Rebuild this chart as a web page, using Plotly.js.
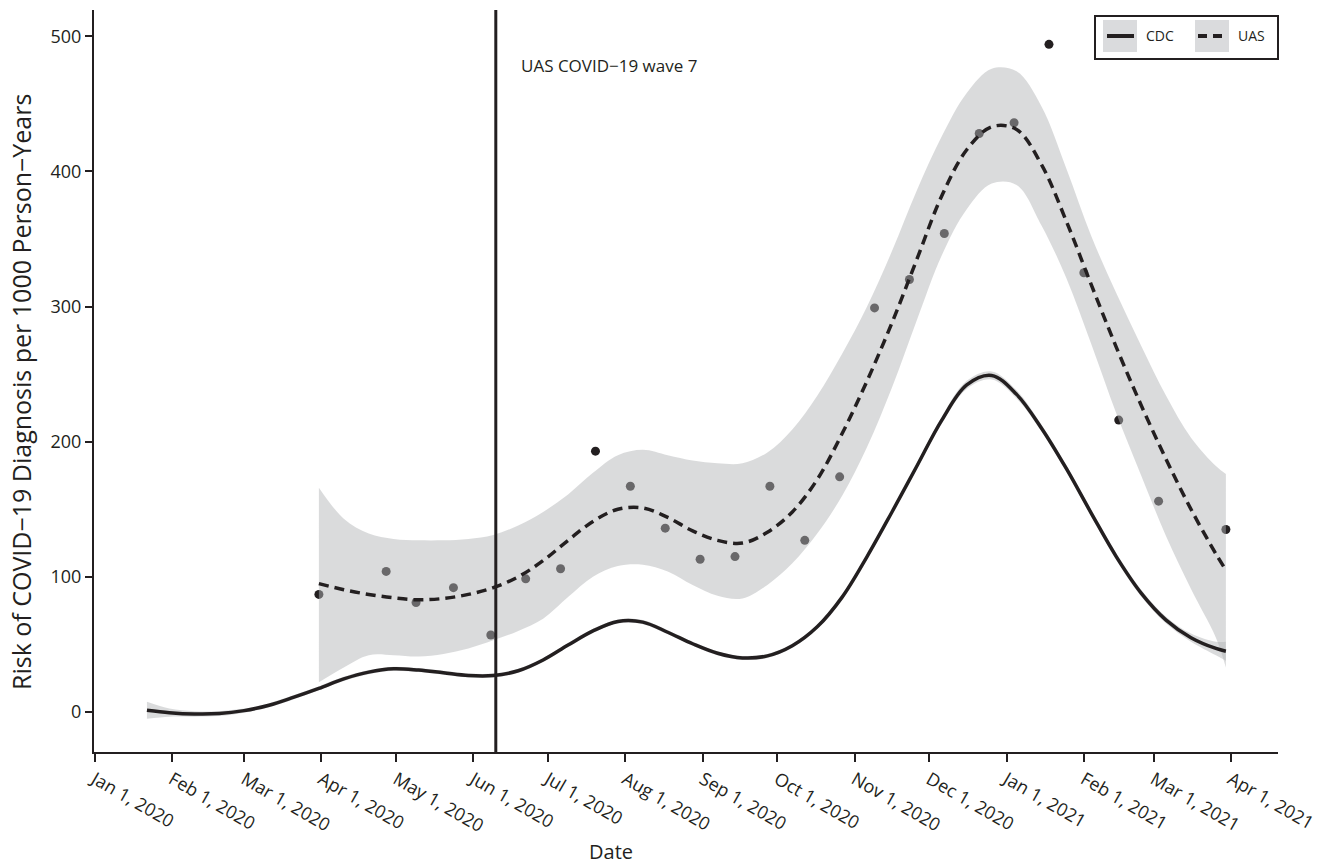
<!DOCTYPE html>
<html>
<head>
<meta charset="utf-8">
<script src="https://cdn.plot.ly/plotly-3.0.1.min.js"></script>
<style>html,body{margin:0;padding:0;background:#fff;}#chart{width:1323px;height:867px;}</style>
</head>
<body>
<div id="chart"></div>
<script>
// ---------- DATA ----------
// CDC smoothed risk (solid line) and its narrow confidence band
const cdcDates = ["2020-01-22","2020-01-31","2020-02-10","2020-02-20","2020-03-01","2020-03-11","2020-03-21","2020-03-31","2020-04-10","2020-04-20","2020-04-30","2020-05-10","2020-05-20","2020-05-30","2020-06-09","2020-06-19","2020-06-29","2020-07-09","2020-07-19","2020-07-29","2020-08-08","2020-08-18","2020-08-28","2020-09-07","2020-09-17","2020-09-27","2020-10-07","2020-10-17","2020-10-27","2020-11-06","2020-11-16","2020-11-26","2020-12-06","2020-12-16","2020-12-26","2021-01-05","2021-01-15","2021-01-25","2021-02-04","2021-02-14","2021-02-24","2021-03-06","2021-03-16","2021-03-26","2021-03-30"];
const cdcFit = [1.3,-0.5,-1.5,-1.2,1.0,5,11,17.5,24.5,29.5,32,31,29,27,27,30.5,38.5,49.5,60,67,66.5,59,50.5,43.5,40,41.5,49,63,85,115,148,182,216,242,249,235,210,180,147,115,88,68,55,47,45];
const cdcLower = [-5,-3.5,-3.5,-3,-0.5,3.5,9.5,16,23,28,30.5,29.5,27.5,25.5,25.5,29,37,48,58.5,65.5,65,57.5,49,42,38.5,40,47.5,61.5,83.5,113.5,146.5,180,213.5,239,246,232,207.5,177.5,144.5,112.5,85.5,65.5,52,42,38];
const cdcUpper = [7.5,2.5,0.5,0.6,2.5,6.5,12.5,19,26,31,33.5,32.5,30.5,28.5,28.5,32,40,51,61.5,68.5,68,60.5,52,45,41.5,43,50.5,64.5,86.5,116.5,149.5,184,218.5,245,252,238,212.5,182.5,149.5,117.5,90.5,70.5,58,52,52];

// UAS smoothed risk (dashed line) with confidence band
const uasDates = ["2020-03-31","2020-04-10","2020-04-20","2020-04-30","2020-05-10","2020-05-20","2020-05-30","2020-06-09","2020-06-19","2020-06-29","2020-07-09","2020-07-19","2020-07-29","2020-08-08","2020-08-18","2020-08-28","2020-09-07","2020-09-17","2020-09-27","2020-10-07","2020-10-17","2020-10-27","2020-11-06","2020-11-16","2020-11-26","2020-12-06","2020-12-16","2020-12-26","2021-01-05","2021-01-15","2021-01-25","2021-02-04","2021-02-14","2021-02-24","2021-03-06","2021-03-16","2021-03-26","2021-03-30"];
const uasFit = [95,90.5,87,84.5,83,84,87,92,100,112,127,141,150,151,144,134,127,125,133,148,172,206,245,288,335,382,416,433,431,405,363,316,270,227,187,150,117,105];
const uasLower = [22,33,42,42,41,43,47,53,60,69,85,100,108,109,104,94,86,84,94,110,132,160,196,240,290,338,372,391,390,360,321,272,221,175,130,91,55,33];
const uasUpper = [166,143,132,128,127,127,128,131,138,148,161,177,190,194,190,186,184,184,192,209,234,265,300,341,386,426,458,476,474,448,402,352,310,271,234,203,182,176];

// UAS observed biweekly risk (points)
const obsDates = ["2020-03-31","2020-04-27","2020-05-09","2020-05-24","2020-06-08","2020-06-22","2020-07-06","2020-07-20","2020-08-03","2020-08-17","2020-08-31","2020-09-14","2020-09-28","2020-10-12","2020-10-26","2020-11-09","2020-11-23","2020-12-07","2020-12-21","2021-01-04","2021-01-18","2021-02-01","2021-02-15","2021-03-03","2021-03-30"];
const obsValues = [87,104,81,92,57,98.5,106,193,167,136,113,115,167,127,174,299,320,354,428,436,494,325,216,156,135];

// Reference line
const waveDate = "2020-06-10";
const waveLabel = "UAS COVID\u221219 wave 7";

// Axis ticks
const yTicks = [0,100,200,300,400,500];
const legendNames = ["CDC","UAS"];

// ---------- STYLE ----------
const INK = "#231f20";
const BAND = "rgba(180,181,184,0.49)";
const FONT = "Open Sans, Noto Sans, sans-serif";
const L = 94, R = 1278, T = 10, B = 752;
const W = 1323, H = 867;
const px = x => (x - L) / (R - L);
const py = y => (B - y) / (B - T);

const traces = [
  {x: obsDates, y: obsValues, type: "scatter", mode: "markers",
   marker: {size: 9, color: INK}, showlegend: false, hoverinfo: "x+y"},
  {x: uasDates, y: uasLower, type: "scatter", mode: "lines",
   line: {width: 0, shape: "spline"}, showlegend: false, hoverinfo: "skip"},
  {x: uasDates, y: uasUpper, type: "scatter", mode: "lines", fill: "tonexty",
   fillcolor: BAND, line: {width: 0, shape: "spline"}, showlegend: false, hoverinfo: "skip"},
  {x: cdcDates, y: cdcLower, type: "scatter", mode: "lines",
   line: {width: 0, shape: "spline"}, showlegend: false, hoverinfo: "skip"},
  {x: cdcDates, y: cdcUpper, type: "scatter", mode: "lines", fill: "tonexty",
   fillcolor: BAND, line: {width: 0, shape: "spline"}, showlegend: false, hoverinfo: "skip"},
  {x: cdcDates, y: cdcFit, type: "scatter", mode: "lines", name: legendNames[0],
   line: {width: 3.5, color: INK, shape: "spline"}, showlegend: false},
  {x: uasDates, y: uasFit, type: "scatter", mode: "lines", name: legendNames[1],
   line: {width: 3.5, color: INK, shape: "spline", dash: "10px,6px"}, showlegend: false}
];

const shapes = [
  {type: "line", xref: "x", yref: "paper", x0: waveDate, x1: waveDate, y0: 0, y1: 1,
   line: {color: INK, width: 3}, layer: "above"},
  // legend box
  {type: "rect", xref: "paper", yref: "paper", x0: px(1095), x1: px(1278), y0: py(59), y1: py(16),
   line: {color: INK, width: 2}, fillcolor: "#ffffff", layer: "above"},
  {type: "rect", xref: "paper", yref: "paper", x0: px(1103), x1: px(1137), y0: py(52), y1: py(20),
   line: {width: 0}, fillcolor: "#dadbdd", layer: "above"},
  {type: "line", xref: "paper", yref: "paper", x0: px(1107), x1: px(1134), y0: py(36), y1: py(36),
   line: {color: INK, width: 4}, layer: "above"},
  {type: "rect", xref: "paper", yref: "paper", x0: px(1195), x1: px(1229), y0: py(52), y1: py(20),
   line: {width: 0}, fillcolor: "#dadbdd", layer: "above"},
  {type: "line", xref: "paper", yref: "paper", x0: px(1198), x1: px(1226), y0: py(36), y1: py(36),
   line: {color: INK, width: 4, dash: "9px,6px"}, layer: "above"}
];

const annotations = [
  {text: waveLabel, xref: "x", yref: "paper", x: waveDate, xshift: 23, y: py(66),
   xanchor: "left", yanchor: "middle", showarrow: false, font: {family: FONT, size: 17, color: INK}},
  {text: legendNames[0], xref: "paper", yref: "paper", x: px(1144), y: py(36), xanchor: "left", yanchor: "middle",
   showarrow: false, font: {family: FONT, size: 14, color: INK}},
  {text: legendNames[1], xref: "paper", yref: "paper", x: px(1236), y: py(36), xanchor: "left", yanchor: "middle",
   showarrow: false, font: {family: FONT, size: 14, color: INK}},
  {text: "Date", xref: "paper", yref: "paper", x: px(611), y: py(852), xanchor: "center", yanchor: "middle",
   showarrow: false, font: {family: FONT, size: 20, color: INK}},
  {text: "Risk of COVID\u221219 Diagnosis per 1000 Person\u2212Years", xref: "paper", yref: "paper",
   x: px(21), y: py(392), xanchor: "center", yanchor: "middle", textangle: -90,
   showarrow: false, font: {family: FONT, size: 25, color: INK}}
];

const layout = {
  width: W, height: H,
  margin: {l: L, r: W - R, t: T, b: H - B, pad: 0},
  paper_bgcolor: "#ffffff", plot_bgcolor: "#ffffff",
  showlegend: false,
  font: {family: FONT, color: INK},
  xaxis: {
    type: "date", range: ["2019-12-31 18:00", "2021-04-19 22:00"],
    tick0: "2020-01-01", dtick: "M1", tickformat: "%b %-d, %Y", tickangle: 30,
    ticks: "outside", ticklen: 8, tickwidth: 2, tickcolor: INK,
    showline: true, linewidth: 2, linecolor: INK, showgrid: false, zeroline: false,
    tickfont: {family: FONT, size: 18, color: INK}, automargin: false
  },
  yaxis: {
    range: [-29.6, 519.4], tickvals: yTicks,
    ticks: "outside", ticklen: 7, tickwidth: 2, tickcolor: INK,
    showline: true, linewidth: 2, linecolor: INK, showgrid: false, zeroline: false,
    tickfont: {family: FONT, size: 18, color: INK}, automargin: false
  },
  shapes: shapes,
  annotations: annotations
};

Plotly.newPlot("chart", traces, layout, {displayModeBar: false, staticPlot: true});
</script>
</body>
</html>
